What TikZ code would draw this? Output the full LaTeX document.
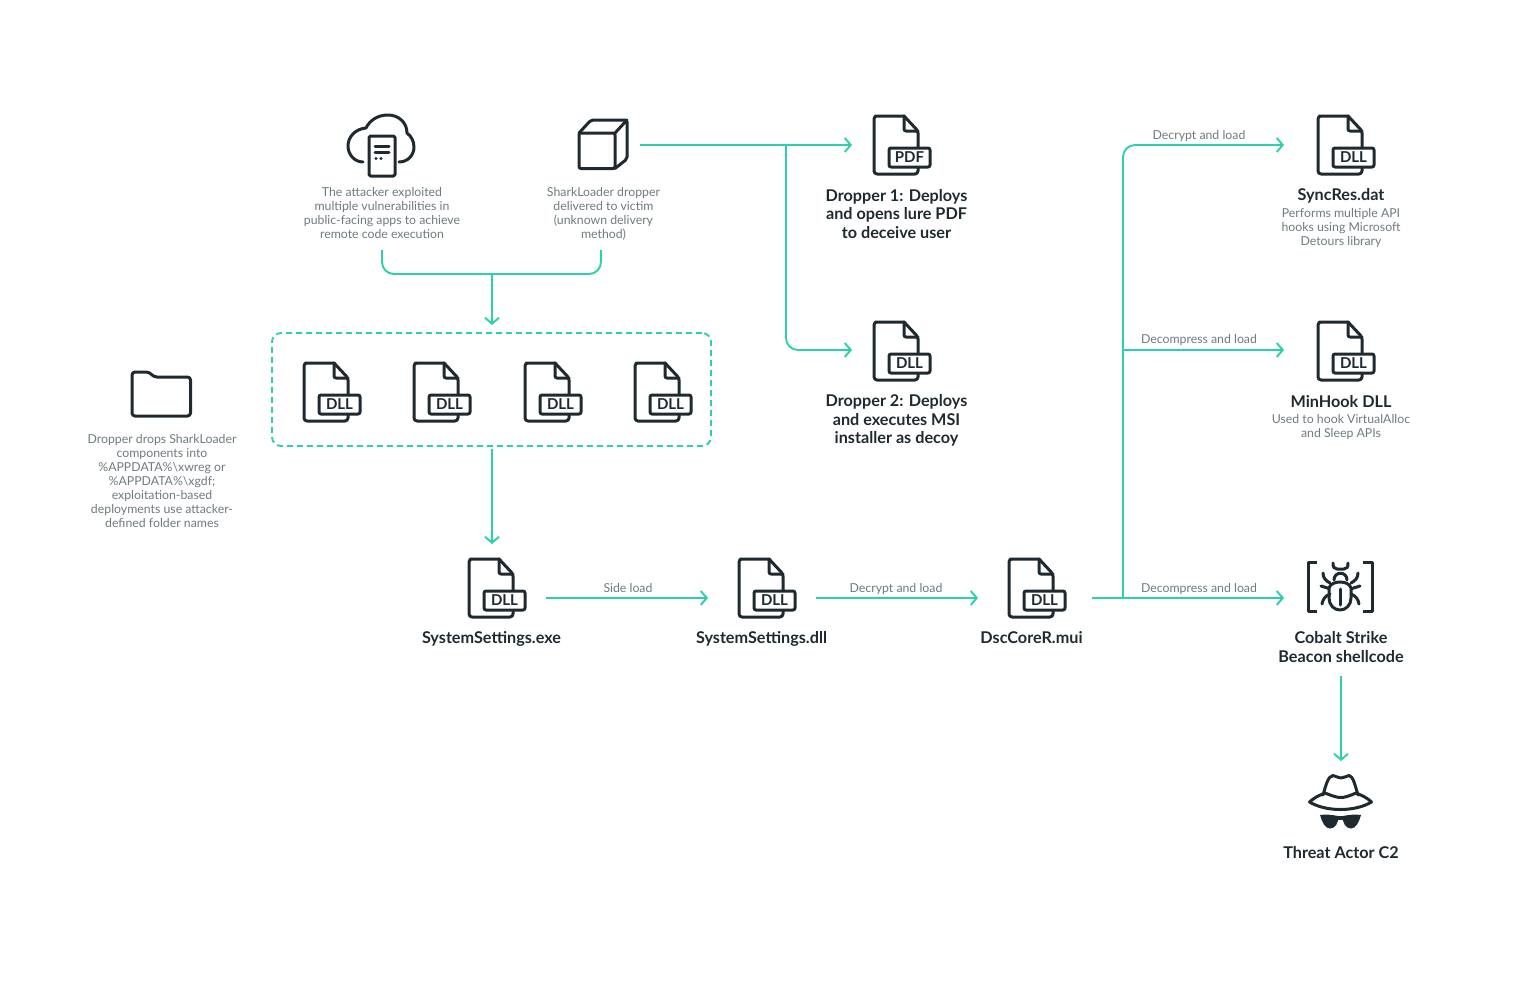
\documentclass[tikz,border=0pt]{standalone}
\usepackage{fontspec}
\setmainfont{Lato}
\usetikzlibrary{arrows.meta}
\definecolor{flowteal}{HTML}{2BD0AE}
\definecolor{icondark}{HTML}{1F2A30}
\definecolor{notegray}{HTML}{6E7B80}
\tikzset{
  flow/.style    = {draw=flowteal, line width=1.9pt},
  flowto/.style  = {flow, -{Straight Barb[length=6pt,width=14pt,line width=1.9pt]}},
  icon/.style    = {draw=icondark, line width=3pt, line join=round, line cap=round},
  note/.style    = {text=notegray, align=center, inner sep=0pt, font=\fontsize{12.3}{14}\selectfont},
  title/.style   = {text=icondark, align=center, inner sep=0pt, font=\fontsize{16.2}{18.5}\selectfont\bfseries},
  edgetext/.style= {text=notegray, inner sep=0pt, font=\fontsize{12.3}{14}\selectfont},
  pics/docicon/.style = {code = {
    \draw[icon, rounded corners=3pt] (30,0) -- (4,0) -- (0,0) -- (0,58) -- (44,58) -- (44,50);
    \draw[icon, rounded corners=2pt] (30,0) -- (44,15) -- (44,31);
    \draw[icon, rounded corners=2pt] (30,0) -- (30,15) -- (44,15);
    \draw[icon, fill=white, rounded corners=2pt] (15,32) rectangle (56,51);
    \node[text=icondark, inner sep=0pt, font=\fontsize{15}{15}\selectfont\bfseries] (-tag) at (35.5,41.5) {#1};
  }}
}
\begin{document}
\begin{tikzpicture}[x=1pt, y=-1pt]
  \useasboundingbox (0,0) rectangle (1536,990);

  \coordinate (attackout)  at (382,250);
  \coordinate (attackdown) at (382,274);
  \coordinate (boxout)     at (601,250);
  \coordinate (boxdown)    at (601,274);
  \coordinate (joinin)     at (492,274);
  \coordinate (groupin)    at (492,325);
  \coordinate (groupout)   at (492,449);
  \coordinate (exein)      at (492,544);
  \coordinate (cubeout)    at (640,145);
  \coordinate (lurein)     at (852,145);
  \coordinate (forkdrop)   at (786,145);
  \coordinate (turndrop)   at (786,350);
  \coordinate (msiin)      at (852,350);
  \coordinate (exeout)     at (546,598);
  \coordinate (dllin)      at (708,598);
  \coordinate (dllout)     at (816,598);
  \coordinate (muiin)      at (978,598);
  \coordinate (muiout)     at (1092,598);
  \coordinate (beaconin)   at (1284,598);
  \coordinate (forkmui)    at (1123,598);
  \coordinate (turnmui)    at (1123,145);
  \coordinate (syncin)     at (1284,145);
  \coordinate (forkhook)   at (1123,350);
  \coordinate (hookin)     at (1284,350);
  \coordinate (beaconout)  at (1341,676);
  \coordinate (actorin)    at (1341,761);

  \draw[flow, rounded corners=12pt]  (attackout) -- (attackdown) -- (boxdown) -- (boxout);
  \draw[flowto]                      (joinin) -- (groupin);
  \draw[flowto]                      (groupout) -- (exein);
  \draw[flowto]                      (cubeout) -- (lurein);
  \draw[flowto, rounded corners=12pt] (forkdrop) -- (turndrop) -- (msiin);
  \draw[flowto]                      (exeout) -- (dllin);
  \draw[flowto]                      (dllout) -- (muiin);
  \draw[flowto]                      (muiout) -- (beaconin);
  \draw[flowto, rounded corners=12pt] (forkmui) -- (turnmui) -- (syncin);
  \draw[flowto]                      (forkhook) -- (hookin);
  \draw[flowto]                      (beaconout) -- (actorin);

  \node[draw=flowteal, line width=1.9pt, dash pattern=on 6pt off 4pt, rounded corners=9pt,
        minimum width=439pt, minimum height=113pt, inner sep=0pt] (group) at (491.5,389.5) {};

  \pic (lure)   at (874,116)  {docicon=PDF};
  \pic (msi)    at (874,322)  {docicon=DLL};
  \pic (sync)   at (1318,116) {docicon=DLL};
  \pic (hook)   at (1318,322) {docicon=DLL};
  \pic (parta)  at (304,363)  {docicon=DLL};
  \pic (partb)  at (414,363)  {docicon=DLL};
  \pic (partc)  at (525,363)  {docicon=DLL};
  \pic (partd)  at (635,363)  {docicon=DLL};
  \pic (exe)    at (469,559)  {docicon=DLL};
  \pic (dll)    at (739,559)  {docicon=DLL};
  \pic (mui)    at (1009,559) {docicon=DLL};

  \draw[icon] (399,162) .. controls (408,162) and (414,155) .. (414,147)
              .. controls (414,141) and (411,136) .. (407,133)
              .. controls (407,122) and (398,115) .. (388,115)
              .. controls (378,115) and (370,120) .. (366,128)
              .. controls (355,129) and (348,137) .. (348,146)
              .. controls (348,155) and (355,162) .. (363,162);
  \draw[icon, rounded corners=1.5pt] (369,136) rectangle (395,176);
  \draw[icon] (375,146) -- (389,146);
  \draw[icon] (375,152) -- (389,152);
  \fill[icondark] (376,158.5) circle (1.6) (381,158.5) circle (1.6);

  \draw[icon, rounded corners=2pt] (579,133) rectangle (615,168.5);
  \draw[icon, rounded corners=2pt] (579,133) -- (591,120) -- (627,120) -- (627,159) -- (615,168.5);
  \draw[icon] (615,133) -- (627,120);

  \draw[icon, rounded corners=3pt] (132,372) -- (149,372) -- (154,377) -- (190.5,377) -- (190.5,416) -- (132,416) -- cycle;

  \draw[icon, line cap=butt] (1317,562.5) -- (1308.5,562.5) -- (1308.5,611) -- (1317,611);
  \draw[icon, line cap=butt] (1363,562.5) -- (1372,562.5) -- (1372,611) -- (1363,611);
  \draw[icon] (1329,588) .. controls (1331,580) and (1349,580) .. (1351,588) -- (1351,598)
              .. controls (1351,605) and (1346,610) .. (1340,610)
              .. controls (1334,610) and (1329,605) .. (1329,598) -- cycle;
  \draw[icon] (1340,589) -- (1340,605);
  \draw[icon] (1334,580) .. controls (1334,571) and (1347,571) .. (1347,580);
  \draw[icon] (1333,563) .. controls (1333,567) and (1334,569) .. (1337,569) -- (1344,569)
              .. controls (1347,569) and (1348,567) .. (1348,563);
  \draw[icon] (1323,573) .. controls (1323,578) and (1326,581) .. (1330,583);
  \draw[icon] (1358,573) .. controls (1358,578) and (1355,581) .. (1351,583);
  \draw[icon] (1321,586) -- (1329,588.5);
  \draw[icon] (1360,586) -- (1352,588.5);
  \draw[icon] (1322,604) .. controls (1323,599) and (1325,596) .. (1330,594);
  \draw[icon] (1359,604) .. controls (1358,599) and (1356,596) .. (1351,594);

  \draw[icon] (1309.5,802) .. controls (1316,796) and (1323,794) .. (1325,793)
              .. controls (1340,799) and (1342,799) .. (1356,793)
              .. controls (1358,794) and (1365,796) .. (1371.5,802)
              .. controls (1355,812) and (1326,812) .. (1309.5,802) -- cycle;
  \draw[icon] (1323,795) .. controls (1326,785) and (1328,776) .. (1333,775.5)
              .. controls (1336,776) and (1338,778) .. (1341,778)
              .. controls (1344,778) and (1346,776) .. (1349,775.5)
              .. controls (1353,776) and (1355,785) .. (1358,795);
  \fill[icondark] (1320,815) .. controls (1326,814) and (1333,815) .. (1338,816)
              .. controls (1339,823) and (1335,828.5) .. (1330,828.5)
              .. controls (1325,828.5) and (1322,822) .. (1320,815) -- cycle;
  \fill[icondark] (1361,815) .. controls (1355,814) and (1348,815) .. (1343,816)
              .. controls (1342,823) and (1346,828.5) .. (1351,828.5)
              .. controls (1356,828.5) and (1359,822) .. (1361,815) -- cycle;
  \fill[icondark] (1337,815.5) rectangle (1344,819.5);

  \node[note] (attacktext) at (382,213)  {The attacker exploited\\multiple vulnerabilities in\\public-facing apps to achieve\\remote code execution};
  \node[note] (boxtext)    at (603.5,214) {SharkLoader dropper\\delivered to victim\\(unknown delivery\\method)};
  \node[note] (foldertext) at (162,481)  {Dropper drops SharkLoader\\components into\\\%APPDATA\%\textbackslash xwreg or\\\%APPDATA\%\textbackslash xgdf;\\exploitation-based\\deployments use attacker-\\defined folder names};
  \node[title] (luretext)  at (896.5,214) {Dropper 1: Deploys\\and opens lure PDF\\to deceive user};
  \node[title] (msitext)   at (896.5,420.5) {Dropper 2: Deploys\\and executes MSI\\installer as decoy};
  \node[title] (synctitle) at (1341,195.5) {SyncRes.dat};
  \node[note]  (syncnote)  at (1341,228) {Performs multiple API\\hooks using Microsoft\\Detours library};
  \node[title] (hooktitle) at (1341,401.5) {MinHook DLL};
  \node[note]  (hooknote)  at (1341,427) {Used to hook VirtualAlloc\\and Sleep APIs};
  \node[title] (exetitle)  at (491.5,639) {SystemSettings.exe};
  \node[title] (dlltitle)  at (761.5,639) {SystemSettings.dll};
  \node[title] (muititle)  at (1031.5,637.5) {DscCoreR.mui};
  \node[title] (beacontitle) at (1341,647) {Cobalt Strike\\Beacon shellcode};
  \node[title] (actortitle)  at (1341,852.5) {Threat Actor C2};

  \node[edgetext] (sideload)  at (628,588)  {Side load};
  \node[edgetext] (decrypta)  at (896,589)  {Decrypt and load};
  \node[edgetext] (decompa)   at (1199,589) {Decompress and load};
  \node[edgetext] (decompb)   at (1199,340.5) {Decompress and load};
  \node[edgetext] (decryptb)  at (1199,136) {Decrypt and load};
\end{tikzpicture}
\end{document}
